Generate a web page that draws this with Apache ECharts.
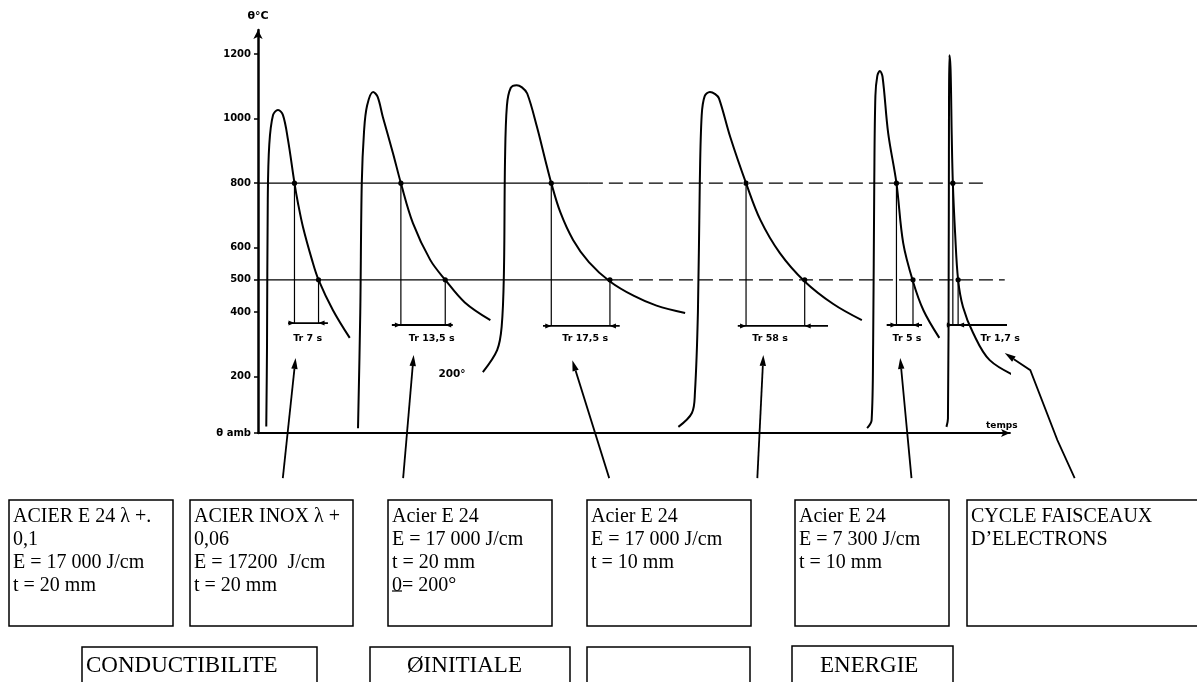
<!DOCTYPE html>
<html><head><meta charset="utf-8">
<script src="https://cdn.jsdelivr.net/npm/echarts@6/dist/echarts.min.js"></script>
<style>html,body{margin:0;padding:0;background:#fff}#c{width:1197px;height:682px}</style>
</head><body><div id="c"></div>
<script>
// ---- data ----
const yTicks = [25, 200, 400, 500, 600, 800, 1000, 1200];
const yTickLabels = ['θ amb', '200', '400', '500', '600', '800', '1000', '1200'];

const curve1 = [[1.1,45],[1.2,300],[1.3,750],[1.5,920],[2.0,1011],[2.66,1027],[3.32,1011],[3.99,934],[4.85,800],[5.3,740],[5.98,664],[7.18,562],[8.05,500],[9.97,406],[12.2,320]];
const curve2 = [[13.3,40],[13.6,400],[13.8,800],[14.1,960],[14.5,1040],[15.3,1083],[15.9,1068],[16.6,1005],[17.95,893],[19.0,800],[20.6,676],[22.9,562],[24.9,500],[27.5,430],[30.9,375]];
const curve3 = [[29.9,214],[31.8,282],[32.4,354],[32.7,520],[32.85,872],[33.1,1040],[33.6,1095],[34.4,1104],[35.1,1097],[35.8,1078],[37.1,974],[38.2,872],[39.0,800],[40.2,710],[41.9,624],[44.0,555],[46.8,495],[50,450],[53,420],[56.8,397]];
const curve4 = [[55.9,44],[57.7,87],[58.1,149],[58.5,400],[58.75,800],[59.0,1010],[59.4,1070],[60.1,1083],[60.8,1076],[61.3,1063],[62.8,943],[64.9,800],[66.8,686],[69.4,583],[72.7,495],[76.5,425],[80.3,375]];
const curve5 = [[81.0,40],[81.6,65],[81.8,300],[81.95,800],[82.1,1070],[82.35,1132],[82.7,1148],[83.05,1130],[83.8,955],[84.9,800],[85.8,614],[87.1,495],[88.5,405],[90.6,320]];
const curve6 = [[91.55,44],[91.75,70],[91.85,600],[91.95,1197],[92.1,1150],[92.25,950],[92.4,800],[92.7,645],[93.1,500],[93.75,416],[95.1,335],[97.3,251],[101.3,196]];
const curves = [curve1, curve2, curve3, curve4, curve5, curve6];

const thresholds = [800, 500];
const thresholdSolidEnd = [44, 48];
const thresholdEnd = [97.0, 99.3];

const t800 = [4.85, 19.0, 39.0, 64.9, 84.9, 92.4];
const t500 = [8.05, 24.9, 46.8, 72.7, 87.1, 93.1];
const bracketLeft = [4.0, 17.8, 37.9, 63.8, 83.6, 91.6];
const bracketRight = [9.3, 25.9, 48.1, 75.8, 88.3, 99.6];
const bracketLevel = [366, 360, 357, 357, 360, 360];
const trLabels = ['Tr 7 s', 'Tr 13,5 s', 'Tr 17,5 s', 'Tr 58 s', 'Tr 5 s', 'Tr 1,7 s'];
const trLabelX = [6.6, 23.1, 43.5, 68.1, 86.3, 98.7];
const trLabelT = 318;

const initialTemp = [[25.8, 208]];
const initialTempLabel = '200°';

const arrows = [
  [[3.3,-115],[5.0,258]],
  [[19.3,-115],[20.7,267]],
  [[46.7,-115],[41.8,251]],
  [[66.4,-115],[67.2,267]],
  [[86.9,-115],[85.4,258]],
  [[108.6,-115],[106.3,3],[102.7,220],[99.3,273]]
];

const boxTexts = [
  'ACIER E 24 λ +.\n0,1\nE = 17 000 J/cm\nt = 20 mm',
  'ACIER INOX λ +\n0,06\nE = 17200  J/cm\nt = 20 mm',
  'Acier E 24\nE = 17 000 J/cm\nt = 20 mm\n0= 200°',
  'Acier E 24\nE = 17 000 J/cm\nt = 10 mm',
  'Acier E 24\nE = 7 300 J/cm\nt = 10 mm',
  'CYCLE FAISCEAUX\nD’ELECTRONS'
];
const factorLabels = ['CONDUCTIBILITE', 'ØINITIALE', '', 'ENERGIE'];

// ---- layout (pixels) ----
const boxRects = [[9,500,164,126],[190,500,163,126],[388,500,164,126],[587,500,164,126],[795,500,154,126],[967,500,240,126]];
const factorRects = [[82,647,235,40],[370,647,200,40],[587,647,163,40],[792,646,161,40]];
const factorTextX = [86, 407, 600, 820];

const chart = echarts.init(document.getElementById('c'), null, {renderer:'canvas'});

const series = [];
curves.forEach((c, i) => {
  series.push({type:'line', name:'c'+i, data:c, showSymbol:false, smooth:0.35, clip:false, silent:true,
    lineStyle:{color:'#000', width:2}, z:3});
});
thresholds.forEach((T, i) => {
  series.push({type:'line', data:[[0,T],[thresholdSolidEnd[i],T]], showSymbol:false, clip:false, silent:true,
    lineStyle:{color:'#000', width:1.3}, z:2});
  series.push({type:'line', data:[[thresholdSolidEnd[i],T],[thresholdEnd[i],T]], showSymbol:false, clip:false, silent:true,
    lineStyle:{color:'#000', width:1.3, type:[14,6]}, z:2});
});

function renderTr(params, api){
  const i = api.value(0);
  const Tb = bracketLevel[i];
  const p8 = api.coord([t800[i],800]), p8b = api.coord([t800[i],Tb]);
  const p5 = api.coord([t500[i],500]), p5b = api.coord([t500[i],Tb]);
  const bl = api.coord([bracketLeft[i],Tb]), br = api.coord([bracketRight[i],Tb]);
  const lab = api.coord([trLabelX[i], trLabelT]);
  const st = {stroke:'#000', lineWidth:1.2};
  const ah = 6, aw = 2.5;
  return {type:'group', children:[
    {type:'line', shape:{x1:p8[0],y1:p8[1],x2:p8b[0],y2:p8b[1]}, style:st},
    {type:'line', shape:{x1:p5[0],y1:p5[1],x2:p5b[0],y2:p5b[1]}, style:st},
    {type:'line', shape:{x1:bl[0],y1:bl[1],x2:br[0],y2:br[1]}, style:{stroke:'#000',lineWidth:1.8}},
    {type:'polygon', shape:{points:[[p8b[0],p8b[1]],[p8b[0]-ah,p8b[1]-aw],[p8b[0]-ah,p8b[1]+aw]]}, style:{fill:'#000'}},
    {type:'polygon', shape:{points:[[p5b[0],p5b[1]],[p5b[0]+ah,p5b[1]-aw],[p5b[0]+ah,p5b[1]+aw]]}, style:{fill:'#000'}},
    {type:'circle', shape:{cx:p8[0],cy:p8[1],r:2.6}, style:{fill:'#000'}},
    {type:'circle', shape:{cx:p5[0],cy:p5[1],r:2.6}, style:{fill:'#000'}},
    {type:'text', x:lab[0], y:lab[1], style:{text:trLabels[i], fill:'#000', font:'bold 9.5px "DejaVu Sans"', align:'center', verticalAlign:'middle'}}
  ]};
}
series.push({type:'custom', renderItem:renderTr, data:trLabels.map((_, i) => [i]), clip:false, silent:true, z:4,
  encode:{x:0}});

function renderArrow(params, api){
  const i = api.value(0);
  const pts = arrows[i].map(p => api.coord(p));
  const n = pts.length;
  const a = pts[n-2], b = pts[n-1];
  const dx = b[0]-a[0], dy = b[1]-a[1];
  const L = Math.sqrt(dx*dx+dy*dy);
  const ux = dx/L, uy = dy/L;
  const hl = 11, hw = 3.2;
  const base = [b[0]-ux*hl, b[1]-uy*hl];
  return {type:'group', children:[
    {type:'polyline', shape:{points:pts.slice(0,n-1).concat([base])}, style:{stroke:'#000', lineWidth:1.8, fill:null}},
    {type:'polygon', shape:{points:[b,[base[0]-uy*hw, base[1]+ux*hw],[base[0]+uy*hw, base[1]-ux*hw]]}, style:{fill:'#000'}}
  ]};
}
series.push({type:'custom', renderItem:renderArrow, data:arrows.map((_, i) => [i]), clip:false, silent:true, z:4,
  encode:{x:0}});

function renderInit(params, api){
  const p = api.coord([api.value(0), api.value(1)]);
  return {type:'text', x:p[0], y:p[1], style:{text:initialTempLabel, fill:'#000', font:'bold 10.5px "DejaVu Sans"', align:'center', verticalAlign:'middle'}};
}
series.push({type:'custom', renderItem:renderInit, data:initialTemp, clip:false, silent:true, z:4, encode:{x:0, y:1}});

const graphic = [];
boxRects.forEach((r, i) => {
  graphic.push({type:'rect', shape:{x:r[0], y:r[1], width:r[2], height:r[3]}, style:{fill:null, stroke:'#000', lineWidth:1.5}, silent:true});
  graphic.push({type:'text', x:r[0]+4, y:505, style:{text:boxTexts[i], font:'20px "Liberation Serif"', lineHeight:23, fill:'#000', verticalAlign:'top'}, silent:true});
});
// underline under the "0" of the third box
graphic.push({type:'line', shape:{x1:392, y1:591, x2:402, y2:591}, style:{stroke:'#000', lineWidth:1.2}, silent:true});
factorRects.forEach((r, i) => {
  graphic.push({type:'rect', shape:{x:r[0], y:r[1], width:r[2], height:r[3]}, style:{fill:null, stroke:'#000', lineWidth:1.5}, silent:true});
  graphic.push({type:'text', x:factorTextX[i], y:666, style:{text:factorLabels[i], font:'23px "Liberation Serif"', fill:'#000', verticalAlign:'middle'}, silent:true});
});

chart.setOption({
  animation:false,
  backgroundColor:'#fff',
  grid:{left:258, top:30, width:752, height:403, containLabel:false},
  xAxis:{type:'value', min:0, max:100,
    axisLine:{show:true, onZero:false, lineStyle:{color:'#000', width:1.8}, symbol:['none','arrow'], symbolSize:[6,9]},
    axisTick:{show:false}, axisLabel:{show:false}, splitLine:{show:false},
    name:'temps', nameLocation:'end', nameGap:-24,
    nameTextStyle:{color:'#000', fontFamily:'DejaVu Sans', fontWeight:'bold', fontSize:9, verticalAlign:'bottom', padding:[0,0,3,0]}},
  yAxis:{type:'value', min:25, max:1275,
    axisLine:{show:true, onZero:false, lineStyle:{color:'#000', width:2.5}, symbol:['none','arrow'], symbolSize:[7,9]},
    axisTick:{show:true, length:4, customValues:yTicks, lineStyle:{color:'#000', width:1.5}},
    axisLabel:{show:true, customValues:yTicks, margin:7,
      formatter:v => { const k = yTicks.indexOf(v); return k >= 0 ? yTickLabels[k] : String(v); },
      color:'#000', fontFamily:'DejaVu Sans', fontWeight:'bold', fontSize:10},
    splitLine:{show:false},
    name:'θ°C', nameLocation:'end', nameGap:8,
    nameTextStyle:{color:'#000', fontFamily:'DejaVu Sans', fontWeight:'bold', fontSize:11}},
  series:series,
  graphic:graphic
});
</script></body></html>
